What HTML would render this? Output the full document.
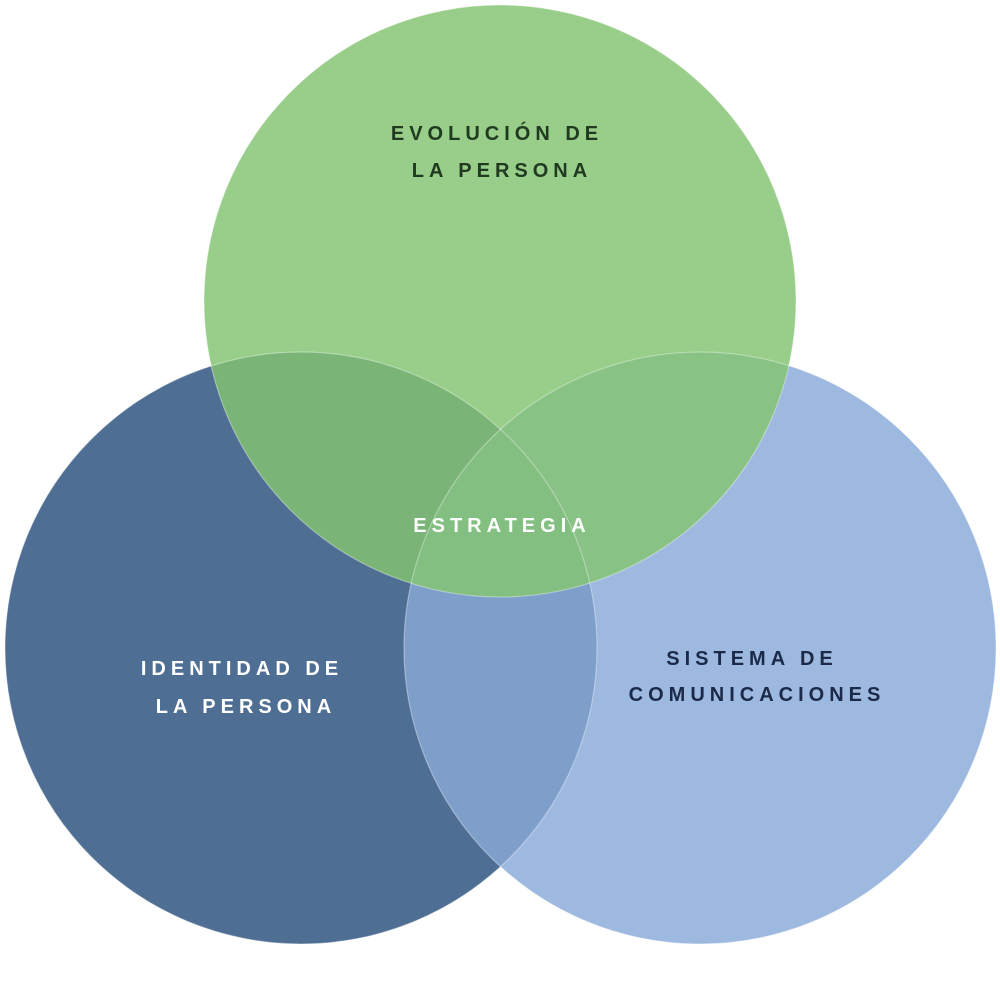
<!DOCTYPE html>
<html><head><meta charset="utf-8"><style>html,body{margin:0;padding:0;background:#fff}</style></head>
<body>
<svg width="1000" height="1000" viewBox="0 0 1000 1000" xmlns="http://www.w3.org/2000/svg">
<defs>
<clipPath id="cL"><circle cx="301" cy="648" r="296"/></clipPath>
<clipPath id="cR"><circle cx="700" cy="648" r="296"/></clipPath>
</defs>
<circle cx="301" cy="648" r="296" fill="#4f6e94"/>
<circle cx="700" cy="648" r="296" fill="#9db9df"/>
<circle cx="500" cy="301" r="296" fill="#98cd8a"/>
<g clip-path="url(#cL)"><circle cx="700" cy="648" r="296" fill="#7f9fcb"/><circle cx="500" cy="301" r="296" fill="#7ab577"/></g>
<g clip-path="url(#cR)"><circle cx="500" cy="301" r="296" fill="#89c285"/></g>
<g clip-path="url(#cL)"><g clip-path="url(#cR)"><circle cx="500" cy="301" r="296" fill="#82bf80"/></g></g>
<g fill="none" stroke="#ffffff" stroke-opacity="0.35" stroke-width="1.2">
<circle cx="301" cy="648" r="296"/><circle cx="700" cy="648" r="296"/><circle cx="500" cy="301" r="296"/>
</g>
<g font-family="Liberation Sans, sans-serif" font-weight="bold" font-size="20" letter-spacing="5" text-anchor="middle">
<text x="497" y="140" fill="#1f3a1f">EVOLUCIÓN DE</text>
<text x="502" y="177" fill="#1f3a1f">LA PERSONA</text>
<text x="502" y="532" fill="#ffffff">ESTRATEGIA</text>
<text x="242" y="675" fill="#ffffff">IDENTIDAD DE</text>
<text x="246" y="713" fill="#ffffff">LA PERSONA</text>
<text x="752" y="665" fill="#1c2a4a">SISTEMA DE</text>
<text x="757" y="701" fill="#1c2a4a">COMUNICACIONES</text>
</g>
</svg>
</body></html>
